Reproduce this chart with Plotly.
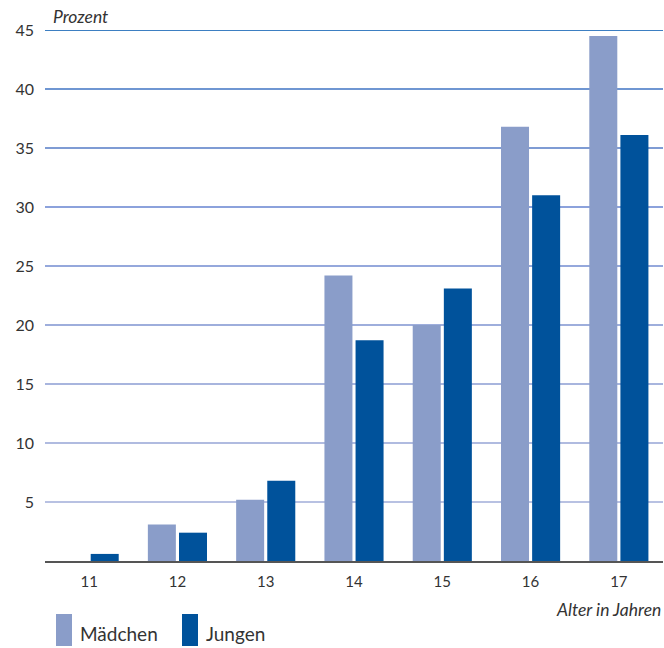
import plotly.graph_objects as go

ages = ["11", "12", "13", "14", "15", "16", "17"]
maedchen = [0.0, 3.1, 5.2, 24.2, 20.0, 36.8, 44.5]
jungen = [0.6, 2.4, 6.8, 18.7, 23.1, 31.0, 36.1]
y_ticks = [5, 10, 15, 20, 25, 30, 35, 40, 45]

C_M = "#8a9dc9"
C_J = "#00529b"
# rule colours, light at the bottom and deepening towards the top
RULE_COLORS = ["#b8c1e2", "#b0bbe0", "#a8b5de", "#9eaedc", "#95a8dc",
               "#8ca2dc", "#7f9cd4", "#6f96d2", "#3d7fc2"]
FONT = "Lato"
TEXT = "#333333"

fig = go.Figure()
fig.add_bar(x=ages, y=maedchen, name="Mädchen", marker_color=C_M, marker_line_width=0)
fig.add_bar(x=ages, y=jungen, name="Jungen", marker_color=C_J, marker_line_width=0)

fig.update_layout(
    width=664, height=648,
    margin=dict(l=45, r=1, t=30, b=87),
    paper_bgcolor="white", plot_bgcolor="white",
    barmode="group", bargap=0.295, bargroupgap=0.1,
    showlegend=False,
    font=dict(family=FONT, color=TEXT),
)
fig.update_xaxes(
    type="category", showgrid=False, showline=True, linecolor="#555555", linewidth=1.5,
    ticks="", tickfont=dict(size=15, color=TEXT), ticklabelstandoff=6,
)
fig.update_yaxes(
    range=[0, 45], tickvals=y_ticks, showgrid=False,
    zeroline=False, showline=False, ticks="", ticklabelstandoff=10,
    tickfont=dict(size=16, color=TEXT),
)

# horizontal rules behind the bars
for v, col in zip(y_ticks, RULE_COLORS):
    fig.add_shape(type="line", xref="paper", yref="y", x0=0, x1=1, y0=v, y1=v,
                  line=dict(color=col, width=2 if v == 45 else 1.8), layer="below")

fig.add_annotation(text="<i>Prozent</i>", xref="paper", yref="paper", x=0.01, y=1,
                   xanchor="left", yanchor="bottom", yshift=1, showarrow=False,
                   font=dict(size=17.5, color=TEXT, family=FONT))
fig.add_annotation(text="<i>Alter in Jahren</i>", xref="paper", yref="paper", x=1, y=0,
                   xanchor="right", yanchor="top", yshift=-36, xshift=0, showarrow=False,
                   font=dict(size=17.5, color=TEXT, family=FONT))

# legend swatches and labels
for x0, color, label in [(56, C_M, "Mädchen"), (182, C_J, "Jungen")]:
    fig.add_shape(type="rect", xref="paper", yref="paper",
                  x0=(x0 - 45) / 618, x1=(x0 + 16 - 45) / 618,
                  y0=-(646 - 561) / 531, y1=-(614 - 561) / 531,
                  fillcolor=color, line_width=0)
    fig.add_annotation(text=label, xref="paper", yref="paper",
                       x=(x0 + 22 - 45) / 618, y=-(634 - 561) / 531,
                       xanchor="left", yanchor="middle", showarrow=False,
                       font=dict(size=19, color=TEXT, family=FONT))

fig.write_html("out.html")
